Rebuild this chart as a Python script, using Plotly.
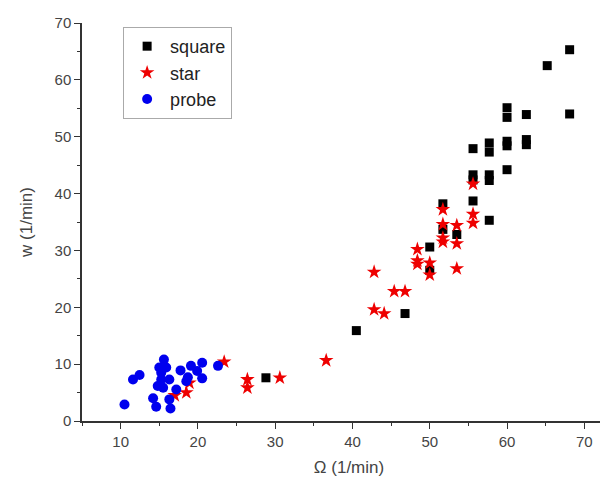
import plotly.graph_objects as go

square_x = [68.1, 65.2, 68.1, 60.0, 60.0, 62.5, 55.6, 57.7, 57.7, 60.0, 60.0, 62.5, 62.5, 60.0,
            55.6, 55.6, 57.7, 57.7, 51.7, 55.6, 57.7, 51.7, 53.5, 50.0, 50.0, 46.8, 40.5, 28.8]
square_y = [65.3, 62.5, 54.0, 55.1, 53.4, 53.9, 47.9, 48.9, 47.3, 49.2, 48.4, 49.5, 48.6, 44.2,
            43.3, 42.4, 43.3, 42.3, 38.2, 38.7, 35.3, 33.7, 32.8, 30.6, 26.5, 18.9, 15.9, 7.6]

star_x = [55.6, 51.7, 55.6, 55.6, 51.7, 53.5, 51.7, 51.7, 53.5, 48.4, 48.4, 48.4, 50.0, 50.0,
          53.5, 42.8, 45.4, 46.8, 42.8, 44.1, 36.6, 30.6, 26.4, 26.4, 23.4, 18.5, 17.0, 18.9]
star_y = [41.7, 37.2, 36.4, 34.8, 34.6, 34.4, 32.2, 31.5, 31.2, 30.2, 28.2, 27.6, 27.8, 25.7,
          26.8, 26.2, 22.8, 22.8, 19.6, 18.9, 10.65, 7.6, 7.3, 5.85, 10.4, 5.0, 4.5, 6.7]

probe_x = [10.5, 11.6, 12.45, 14.2, 14.6, 15.6, 15.0, 15.9, 15.25, 14.8, 15.5, 16.3, 16.3, 16.45,
           17.2, 17.75, 18.7, 18.5, 19.1, 19.9, 20.55, 20.55, 22.6, 15.25]
probe_y = [2.9, 7.3, 8.1, 4.0, 2.5, 10.8, 9.4, 9.4, 7.3, 6.15, 5.85, 7.3, 3.8, 2.2,
           5.55, 8.9, 7.7, 7.0, 9.7, 8.8, 10.25, 7.5, 9.7, 8.5]

x_ticks = [10, 20, 30, 40, 50, 60, 70]
y_ticks = [0, 10, 20, 30, 40, 50, 60, 70]

FONT = "Liberation Sans, Arial"

fig = go.Figure()
fig.add_trace(go.Scatter(x=square_x, y=square_y, mode="markers", name="square",
                         marker=dict(symbol="square", size=9, color="black")))
fig.add_trace(go.Scatter(x=star_x, y=star_y, mode="markers", name="star",
                         marker=dict(symbol="star", size=11, color="#ee0000")))
fig.add_trace(go.Scatter(x=probe_x, y=probe_y, mode="markers", name="probe",
                         marker=dict(symbol="circle", size=10, color="#0000ee")))

axis_common = dict(showgrid=False, zeroline=False, showline=True, linecolor="#333",
                   linewidth=1.5, ticks="outside", ticklen=6, tickwidth=1.3, tickcolor="#333",
                   tickfont=dict(family=FONT, size=15, color="#444"),
                   minor=dict(ticks="outside", ticklen=3, tickwidth=1.2, tickcolor="#333", dtick=5))

fig.update_xaxes(range=[5, 74.1], tickvals=x_ticks, **axis_common,
                 title=dict(text="Ω (1/min)", font=dict(family=FONT, size=17, color="#444"),
                            standoff=12))
fig.update_yaxes(range=[0, 70], tickvals=y_ticks, **axis_common,
                 title=dict(text="w (1/min)", font=dict(family=FONT, size=17, color="#444"),
                            standoff=18))

fig.update_layout(width=608, height=477, margin=dict(l=74, r=0, t=15, b=64),
                  plot_bgcolor="white", paper_bgcolor="white",
                  legend=dict(x=0.077, y=0.99, xanchor="left", yanchor="top",
                              bordercolor="#aaa", borderwidth=1, bgcolor="white",
                              font=dict(family=FONT, size=18, color="#222"),
                              itemwidth=36))

fig.write_html("out.html")
